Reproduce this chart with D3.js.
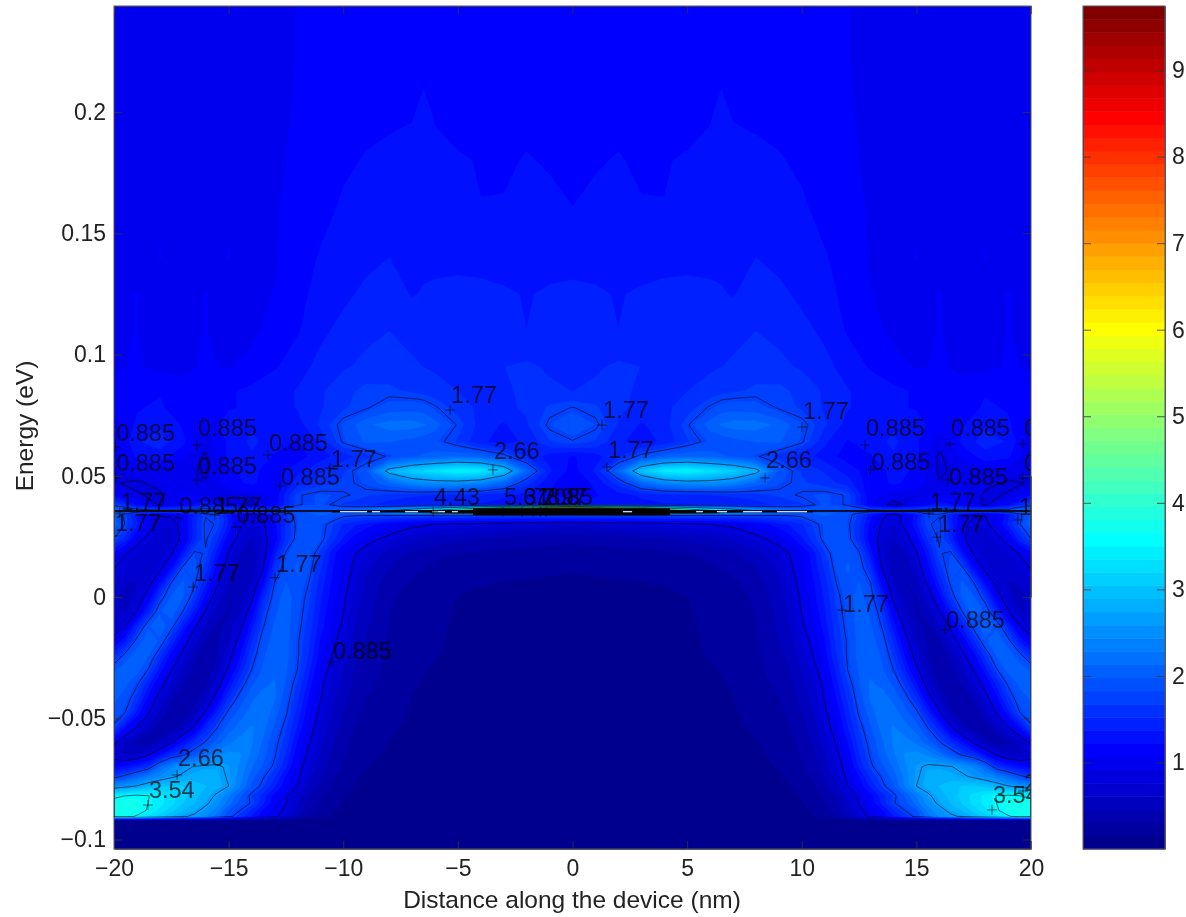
<!DOCTYPE html>
<html>
<head>
<meta charset="utf-8">
<script src="https://cdn.jsdelivr.net/npm/d3@7"></script>
<style>
  body { margin: 0; background: #fff; }
  svg { display: block; filter: blur(0.6px); }
  text { font-family: "Liberation Sans", sans-serif; fill: #222; }
  .axis path, .axis line { stroke: #333; stroke-width: 0.8; }
</style>
</head>
<body>
<div id="chart"></div>
<script>
// DATA
// ------------------------------------------------------------------

// Above the resonance line: left half of the device (nm), mirrored about x = 0
var distanceUpper = [-20, -19, -18, -17, -16, -15, -14, -13, -12, -11, -10, -9, -8, -7, -6.5, -6, -5, -4, -3, -2, -1, 0];

// Energy of each row (eV), top to bottom
var energyUpper = [0.244, 0.22, 0.2, 0.18, 0.16, 0.14, 0.125, 0.11, 0.095, 0.085, 0.078, 0.071, 0.064, 0.058, 0.052, 0.047, 0.042, 0.038, 0.0355];

// Density, one row per energy, one value per distance
var densityUpper = [
  [1.0, 1.0, 1.0, 1.0, 1.0, 1.0, 1.0, 1.03, 1.07, 1.11, 1.13, 1.13, 1.14, 1.14, 1.14, 1.13, 1.13, 1.13, 1.13, 1.13, 1.13, 1.13],
  [1.0, 1.0, 1.0, 1.0, 1.0, 1.0, 1.0, 1.03, 1.07, 1.11, 1.13, 1.14, 1.15, 1.16, 1.17, 1.15, 1.14, 1.14, 1.14, 1.14, 1.14, 1.13],
  [1.0, 1.0, 1.0, 1.0, 1.0, 1.0, 1.0, 1.03, 1.08, 1.12, 1.15, 1.17, 1.18, 1.2, 1.26, 1.2, 1.17, 1.15, 1.15, 1.16, 1.15, 1.14],
  [1.02, 1.0, 1.04, 1.02, 1.0, 1.04, 1.02, 1.04, 1.09, 1.14, 1.19, 1.23, 1.26, 1.28, 1.3, 1.26, 1.23, 1.21, 1.19, 1.23, 1.2, 1.17],
  [1.03, 1.0, 1.05, 1.02, 1.01, 1.05, 1.02, 1.05, 1.12, 1.17, 1.24, 1.28, 1.3, 1.32, 1.33, 1.32, 1.29, 1.22, 1.23, 1.28, 1.26, 1.22],
  [1.04, 1.0, 1.07, 1.02, 1.01, 1.07, 1.02, 1.05, 1.15, 1.23, 1.28, 1.32, 1.37, 1.34, 1.34, 1.34, 1.32, 1.29, 1.3, 1.32, 1.31, 1.29],
  [1.04, 1.07, 1.02, 1.03, 1.07, 1.03, 1.03, 1.07, 1.17, 1.27, 1.33, 1.41, 1.43, 1.36, 1.38, 1.39, 1.42, 1.43, 1.39, 1.36, 1.39, 1.42],
  [1.04, 1.07, 1.0, 1.04, 1.07, 1.02, 1.03, 1.12, 1.2, 1.33, 1.42, 1.48, 1.52, 1.46, 1.44, 1.44, 1.47, 1.48, 1.44, 1.37, 1.42, 1.47],
  [1.05, 1.08, 1.03, 1.04, 1.08, 1.05, 1.12, 1.2, 1.3, 1.42, 1.5, 1.56, 1.6, 1.55, 1.52, 1.5, 1.49, 1.48, 1.52, 1.55, 1.5, 1.47],
  [1.1, 1.1, 1.2, 1.1, 1.12, 1.2, 1.25, 1.3, 1.38, 1.5, 1.62, 1.72, 1.7, 1.65, 1.62, 1.58, 1.52, 1.45, 1.5, 1.55, 1.55, 1.52],
  [1.1, 1.2, 1.25, 1.1, 1.1, 1.2, 1.25, 1.3, 1.38, 1.5, 1.65, 1.75, 1.9, 1.92, 1.9, 1.8, 1.6, 1.48, 1.48, 1.55, 1.7, 1.78],
  [1.0, 1.25, 1.35, 1.2, 1.1, 1.3, 1.35, 1.25, 1.3, 1.55, 1.85, 2.1, 2.2, 2.2, 2.15, 2.05, 1.75, 1.45, 1.35, 1.5, 1.82, 1.98],
  [0.95, 1.35, 1.45, 1.25, 0.95, 1.25, 1.4, 1.3, 1.2, 1.4, 1.8, 2.0, 1.98, 1.92, 1.88, 1.85, 1.65, 1.4, 1.3, 1.4, 1.65, 1.75],
  [0.9, 1.25, 1.3, 1.1, 0.85, 1.25, 1.35, 1.2, 1.15, 1.3, 1.45, 1.6, 1.8, 1.95, 2.0, 2.05, 2.1, 2.05, 1.85, 1.5, 1.3, 1.2],
  [0.9, 1.0, 1.05, 0.95, 0.85, 1.2, 1.25, 1.15, 1.3, 1.5, 1.65, 1.95, 2.8, 3.1, 3.2, 3.3, 3.5, 3.4, 3.0, 2.1, 1.4, 1.15],
  [0.9, 0.85, 0.95, 1.0, 0.9, 1.15, 1.25, 1.1, 1.45, 1.6, 1.7, 1.85, 2.1, 2.4, 2.45, 2.5, 2.5, 2.4, 2.1, 1.6, 1.25, 1.1],
  [1.2, 0.9, 0.85, 1.1, 1.0, 0.9, 1.0, 1.1, 1.75, 1.85, 1.8, 1.7, 1.6, 1.55, 1.53, 1.5, 1.48, 1.45, 1.4, 1.3, 1.2, 1.2],
  [1.7, 1.2, 0.85, 1.1, 1.35, 1.0, 0.8, 1.1, 1.75, 1.85, 1.65, 1.55, 1.45, 1.4, 1.4, 1.38, 1.35, 1.35, 1.3, 1.3, 1.3, 1.35],
  [2.2, 2.0, 1.9, 1.9, 2.0, 1.9, 1.85, 1.9, 2.0, 2.0, 2.1, 2.3, 2.7, 3.2, 3.5, 3.8, 4.5, 5.5, 6.5, 7.5, 8.6, 9.7]
];

// Below the line the bands are narrow, so the grid is finer there
var distanceLower = [-20, -19.5, -19, -18.5, -18, -17.5, -17, -16.5, -16, -15.5, -15, -14.5, -14, -13.5, -13, -12.5, -12, -11.5, -11, -10.5, -10, -9.5, -9, -8, -7, -6, -5, -4, -3, -2, -1, 0];

var energyLower = [0.0355, 0.034, 0.03, 0.024, 0.018, 0.012, 0.006, 0, -0.006, -0.012, -0.018, -0.024, -0.03, -0.036, -0.042, -0.048, -0.054, -0.06, -0.065, -0.07, -0.074, -0.078, -0.082, -0.085, -0.088, -0.0905, -0.092, -0.104];

var densityLower = [
  [2.2, 2.1, 2.0, 1.95, 1.9, 1.9, 1.9, 1.95, 2.0, 1.95, 1.9, 1.85, 1.85, 1.88, 1.9, 1.95, 2.0, 2.0, 2.0, 2.05, 2.1, 2.2, 2.3, 2.7, 3.2, 3.8, 4.5, 5.5, 6.5, 7.5, 8.6, 9.7],
  [2.0, 1.7, 1.3, 1.0, 0.9, 0.95, 1.1, 1.4, 1.75, 1.75, 1.3, 0.95, 0.8, 0.95, 1.3, 1.65, 1.85, 1.95, 2.0, 1.95, 1.85, 1.82, 1.82, 1.85, 1.85, 1.85, 1.85, 1.85, 1.85, 1.85, 1.85, 1.85],
  [2.1, 1.75, 1.4, 1.05, 0.8, 0.75, 1.0, 1.45, 1.82, 1.75, 1.35, 0.95, 0.75, 0.85, 1.15, 1.55, 1.82, 1.98, 1.85, 1.7, 1.5, 1.4, 1.3, 1.1, 0.95, 0.88, 0.84, 0.8, 0.75, 0.72, 0.68, 0.65],
  [1.77, 1.45, 1.0, 0.8, 0.7, 0.72, 0.95, 1.45, 1.8, 1.55, 1.1, 0.75, 0.6, 0.75, 1.1, 1.55, 1.85, 1.95, 1.85, 1.6, 1.35, 1.15, 1.0, 0.8, 0.65, 0.55, 0.5, 0.45, 0.42, 0.4, 0.38, 0.35],
  [1.15, 0.9, 0.75, 0.68, 0.68, 0.85, 1.3, 1.82, 1.75, 1.3, 0.85, 0.6, 0.5, 0.75, 1.3, 1.8, 1.95, 1.9, 1.65, 1.3, 1.05, 0.9, 0.75, 0.55, 0.42, 0.35, 0.3, 0.28, 0.26, 0.24, 0.23, 0.22],
  [0.9, 0.75, 0.65, 0.65, 0.8, 1.2, 1.82, 1.9, 1.6, 1.15, 0.7, 0.48, 0.5, 0.85, 1.55, 1.9, 2.0, 1.85, 1.55, 1.25, 1.0, 0.85, 0.65, 0.45, 0.34, 0.27, 0.23, 0.21, 0.2, 0.19, 0.18, 0.17],
  [0.75, 0.62, 0.6, 0.75, 1.2, 1.77, 2.0, 1.82, 1.4, 0.95, 0.55, 0.45, 0.6, 1.15, 1.77, 1.98, 1.95, 1.77, 1.45, 1.2, 0.98, 0.78, 0.58, 0.38, 0.28, 0.22, 0.18, 0.16, 0.15, 0.14, 0.13, 0.12],
  [0.65, 0.55, 0.65, 1.05, 1.65, 2.0, 2.0, 1.65, 1.15, 0.7, 0.45, 0.5, 0.8, 1.45, 1.87, 2.05, 1.9, 1.7, 1.4, 1.15, 0.93, 0.7, 0.55, 0.33, 0.24, 0.2, 0.15, 0.13, 0.12, 0.11, 0.1, 0.1],
  [0.62, 0.6, 0.9, 1.45, 1.95, 2.1, 1.77, 1.35, 0.85, 0.55, 0.42, 0.6, 1.05, 1.65, 1.95, 2.05, 1.88, 1.65, 1.35, 1.08, 0.9, 0.65, 0.5, 0.31, 0.23, 0.19, 0.14, 0.12, 0.11, 0.11, 0.1, 0.1],
  [0.68, 0.9, 1.45, 1.95, 2.1, 1.85, 1.4, 0.95, 0.6, 0.42, 0.5, 0.8, 1.3, 1.75, 2.0, 2.05, 1.85, 1.6, 1.3, 1.02, 0.85, 0.6, 0.48, 0.3, 0.22, 0.18, 0.13, 0.11, 0.1, 0.1, 0.09, 0.09],
  [1.0, 1.35, 1.85, 2.1, 1.95, 1.5, 1.05, 0.7, 0.45, 0.42, 0.6, 1.0, 1.5, 1.88, 2.05, 2.05, 1.8, 1.55, 1.2, 0.95, 0.78, 0.55, 0.45, 0.28, 0.2, 0.17, 0.13, 0.11, 0.1, 0.09, 0.09, 0.09],
  [1.5, 1.85, 2.1, 2.0, 1.6, 1.15, 0.8, 0.5, 0.38, 0.45, 0.75, 1.2, 1.65, 1.95, 2.1, 2.05, 1.8, 1.5, 1.15, 0.89, 0.7, 0.5, 0.42, 0.27, 0.19, 0.16, 0.12, 0.1, 0.09, 0.09, 0.08, 0.08],
  [1.95, 2.1, 2.05, 1.75, 1.3, 0.9, 0.6, 0.42, 0.35, 0.52, 0.95, 1.4, 1.77, 2.0, 2.1, 2.0, 1.77, 1.4, 1.05, 0.8, 0.62, 0.45, 0.4, 0.25, 0.18, 0.14, 0.12, 0.1, 0.09, 0.08, 0.08, 0.08],
  [2.05, 2.0, 1.8, 1.4, 1.0, 0.68, 0.45, 0.36, 0.42, 0.75, 1.25, 1.65, 1.95, 2.1, 2.15, 1.95, 1.65, 1.3, 0.95, 0.72, 0.55, 0.42, 0.35, 0.22, 0.16, 0.13, 0.11, 0.09, 0.08, 0.08, 0.08, 0.07],
  [2.0, 1.9, 1.6, 1.15, 0.75, 0.48, 0.35, 0.38, 0.6, 1.05, 1.55, 1.88, 2.1, 2.2, 2.15, 1.88, 1.55, 1.2, 0.9, 0.65, 0.5, 0.38, 0.3, 0.2, 0.15, 0.12, 0.1, 0.09, 0.08, 0.08, 0.07, 0.07],
  [1.95, 1.75, 1.3, 0.9, 0.55, 0.36, 0.35, 0.5, 0.95, 1.45, 1.85, 2.05, 2.2, 2.25, 2.05, 1.8, 1.45, 1.1, 0.83, 0.6, 0.45, 0.34, 0.27, 0.19, 0.14, 0.11, 0.1, 0.09, 0.08, 0.07, 0.07, 0.07],
  [1.7, 1.2, 0.85, 0.55, 0.38, 0.34, 0.55, 0.95, 1.45, 1.77, 2.05, 2.2, 2.3, 2.2, 1.95, 1.68, 1.35, 1.0, 0.75, 0.52, 0.4, 0.3, 0.24, 0.17, 0.13, 0.11, 0.09, 0.08, 0.07, 0.07, 0.07, 0.07],
  [0.95, 0.6, 0.42, 0.36, 0.5, 0.85, 1.25, 1.55, 1.8, 2.05, 2.25, 2.35, 2.3, 2.1, 1.85, 1.6, 1.2, 0.9, 0.68, 0.48, 0.35, 0.27, 0.2, 0.15, 0.12, 0.1, 0.09, 0.08, 0.07, 0.07, 0.07, 0.07],
  [0.72, 0.55, 0.6, 0.85, 1.2, 1.55, 1.72, 1.95, 2.2, 2.4, 2.5, 2.45, 2.25, 2.05, 1.8, 1.5, 1.1, 0.82, 0.6, 0.42, 0.32, 0.24, 0.18, 0.13, 0.11, 0.09, 0.08, 0.07, 0.07, 0.07, 0.06, 0.06],
  [1.15, 1.25, 1.4, 1.6, 2.1, 2.4, 2.55, 2.68, 2.72, 2.72, 2.6, 2.4, 2.15, 1.95, 1.72, 1.4, 1.0, 0.75, 0.55, 0.38, 0.28, 0.2, 0.16, 0.12, 0.1, 0.09, 0.08, 0.07, 0.07, 0.07, 0.06, 0.06],
  [1.65, 1.85, 2.1, 2.3, 2.45, 2.6, 2.72, 2.78, 2.8, 2.78, 2.62, 2.35, 2.05, 1.8, 1.55, 1.2, 0.95, 0.65, 0.48, 0.33, 0.24, 0.17, 0.14, 0.1, 0.09, 0.08, 0.07, 0.07, 0.06, 0.06, 0.06, 0.06],
  [2.45, 2.55, 2.68, 2.85, 3.0, 3.05, 3.05, 3.0, 2.9, 2.8, 2.66, 2.3, 1.95, 1.7, 1.4, 1.1, 0.885, 0.55, 0.42, 0.28, 0.2, 0.15, 0.12, 0.09, 0.09, 0.08, 0.07, 0.07, 0.06, 0.06, 0.06, 0.06],
  [3.45, 3.55, 3.6, 3.55, 3.4, 3.25, 3.1, 2.95, 2.8, 2.6, 2.3, 2.0, 1.7, 1.45, 1.15, 0.92, 0.68, 0.45, 0.32, 0.22, 0.16, 0.12, 0.1, 0.08, 0.08, 0.07, 0.07, 0.06, 0.06, 0.06, 0.06, 0.06],
  [3.7, 3.8, 3.75, 3.54, 3.4, 3.25, 3.05, 2.9, 2.72, 2.5, 2.2, 1.9, 1.75, 1.4, 1.1, 0.9, 0.62, 0.4, 0.3, 0.2, 0.14, 0.11, 0.09, 0.07, 0.07, 0.07, 0.06, 0.06, 0.06, 0.06, 0.06, 0.06],
  [3.75, 3.8, 3.7, 3.5, 3.3, 3.1, 2.9, 2.75, 2.55, 2.35, 1.95, 1.77, 1.5, 1.2, 1.0, 0.82, 0.55, 0.35, 0.25, 0.17, 0.12, 0.1, 0.08, 0.07, 0.07, 0.06, 0.06, 0.06, 0.06, 0.06, 0.05, 0.05],
  [3.7, 3.65, 3.5, 3.3, 3.1, 2.9, 2.7, 2.6, 2.45, 2.2, 1.85, 1.6, 1.35, 1.1, 0.95, 0.7, 0.5, 0.3, 0.22, 0.15, 0.1, 0.09, 0.07, 0.06, 0.06, 0.06, 0.06, 0.06, 0.06, 0.06, 0.05, 0.05],
  [0.05, 0.05, 0.05, 0.05, 0.05, 0.05, 0.05, 0.05, 0.05, 0.05, 0.05, 0.05, 0.05, 0.05, 0.05, 0.05, 0.05, 0.05, 0.05, 0.05, 0.05, 0.05, 0.05, 0.05, 0.05, 0.05, 0.05, 0.05, 0.05, 0.05, 0.05, 0.05],
  [0.05, 0.05, 0.05, 0.05, 0.05, 0.05, 0.05, 0.05, 0.05, 0.05, 0.05, 0.05, 0.05, 0.05, 0.05, 0.05, 0.05, 0.05, 0.05, 0.05, 0.05, 0.05, 0.05, 0.05, 0.05, 0.05, 0.05, 0.05, 0.05, 0.05, 0.05, 0.05]
];

// Contour levels that get a drawn line
var lineLevels = [0.885, 1.77, 2.66, 3.54, 4.43, 5.31, 6.2, 7.08, 7.97, 8.85];

var xTicks = [-20, -15, -10, -5, 0, 5, 10, 15, 20];
var yTicks = [-0.1, -0.05, 0, 0.05, 0.1, 0.15, 0.2];
var barTicks = [1, 2, 3, 4, 5, 6, 7, 8, 9];

// Contour labels: text, x of the plus (nm), E of the plus, E of the text centre
var contourLabels = [
  ["1.77", -5.34, 0.0771, 0.0833], ["1.77", 1.29, 0.0709, 0.0771], ["1.77", 10.01, 0.0701, 0.0767],
  ["0.885", -19.95, 0.0619, 0.068], ["0.885", -16.38, 0.0627, 0.0697], ["0.885", -13.28, 0.0586, 0.0635],
  ["0.885", -19.95, 0.0491, 0.0556], ["0.885", -16.38, 0.0482, 0.0544], ["0.885", -12.76, 0.0458, 0.0495],
  ["1.77", -10.58, 0.0532, 0.0573], ["2.66", -3.47, 0.0524, 0.0602], ["1.77", 1.5, 0.0536, 0.061],
  ["2.66", 8.4, 0.0491, 0.0565], ["0.885", 12.76, 0.0627, 0.0697], ["0.885", 16.47, 0.0631, 0.0697],
  ["0.885", 13.0, 0.0524, 0.0557], ["0.885", 16.38, 0.0482, 0.0495], ["0.885", 19.65, 0.0631, 0.0697],
  ["0.885", 19.65, 0.0491, 0.0556], ["1.77", 15.55, 0.0346, 0.0392], ["1.77", 15.9, 0.0247, 0.0301],
  ["1.77", 19.43, 0.0318, 0.0375], ["1.77", -19.75, 0.0346, 0.0392], ["1.77", -20, 0.0252, 0.0309],
  ["0.885", -17.2, 0.0326, 0.0379], ["1.77", -15.6, 0.0338, 0.0379], ["0.885", -14.7, 0.0289, 0.0338],
  ["1.77", -16.55, 0.0041, 0.0099], ["1.77", -12.98, 0.008, 0.014], ["1.77", 11.76, -0.0054, -0.0025],
  ["0.885", 16.25, -0.0136, -0.0095], ["0.885", -10.49, -0.0268, -0.0219], ["2.66", -17.25, -0.0734, -0.0664],
  ["3.54", -18.52, -0.0858, -0.0792], ["3.54", 18.3, -0.0878, -0.0816], ["2.66", 19.65, -0.08, -0.0767],
  ["4.43", -6.08, 0.0351, 0.0416], ["5.31", -3.03, 0.0351, 0.0416], ["6.2", -2.2, 0.0351, 0.0416],
  ["7.08", -1.72, 0.0351, 0.0416], ["7.97", -1.4, 0.0351, 0.0416], ["8.85", -1.15, 0.0351, 0.0416]
];

// The contours bunch up along the resonance line: from, to (nm), thickness
var lineBundles = [[-20, 20, 0.8], [-10.5, 10.5, 1.6], [-6.2, 6.4, 3], [-4.34, 4.25, 7]];
// White gaps in that bundle (nm)
var lineGaps = [[-10.14, -8.96], [-8.75, -8.4], [-7.3, -6.74], [-6.13, -5.56], [-5.26, -5], [2.2, 2.6], [5.39, 5.69], [6.3, 6.74], [7.44, 8.27], [8.92, 10.23]];
var bundleEnergy = 0.0352;
var fieldFloor = -0.0908;

var densityMax = 9.74;
var levelCount = 64;

// CANVAS
// ------------------------------------------------------------------

var width = 1186,
    height = 917;

var plot = { left: 114, right: 1031, top: 6, bottom: 849 },
    bar = { left: 1083, right: 1165 };

var svg = d3.select("#chart")
    .append("svg")
    .attr("width", width)
    .attr("height", height);

// SCALES
// ------------------------------------------------------------------

var xScale = d3.scaleLinear().domain([-20, 20]).range([114, 1031]);
var yScale = d3.scaleLinear().domain([0, 0.05]).range([597, 475.75]);
var barScale = d3.scaleLinear().domain([0, densityMax]).range([plot.bottom, plot.top]);

// MATLAB jet, 64 steps
function jet(i) {
  var t = (i + 1) / levelCount;
  function ramp(c) { return Math.max(0, Math.min(1, 1.5 - Math.abs(4 * t - c))); }
  return d3.rgb(ramp(3) * 255, ramp(2) * 255, ramp(1) * 255).formatHex();
}

var step = densityMax / levelCount;
var fillLevels = d3.range(levelCount).map(function(i) { return i * step; });

svg.append("clipPath").attr("id", "plot-clip")
  .append("rect")
    .attr("x", plot.left)
    .attr("y", plot.top)
    .attr("width", plot.right - plot.left)
    .attr("height", plot.bottom - plot.top);

svg.append("clipPath").attr("id", "line-clip")
  .append("rect")
    .attr("x", plot.left)
    .attr("y", plot.top)
    .attr("width", plot.right - plot.left)
    .attr("height", yScale(fieldFloor) - plot.top);

var field = svg.append("g").attr("clip-path", "url(#plot-clip)");
var fillLayer = field.append("g");
var lineLayer = field.append("g").attr("clip-path", "url(#line-clip)");

// FIELD AND CONTOUR LINES
// ------------------------------------------------------------------

function drawBlock(distanceLeft, energies, densityLeft) {
  // Mirror the left half to get the full grid
  var distances = distanceLeft.concat(distanceLeft.slice(0, -1).reverse().map(function(d) { return -d; }));
  var values = d3.merge(densityLeft.map(function(row) {
    return row.concat(row.slice(0, -1).reverse());
  }));
  var nCols = distances.length,
      nRows = energies.length;

  // Grid index -> data value (the grid is not evenly spaced)
  var colToX = d3.scaleLinear().domain(d3.range(nCols)).range(distances).clamp(true);
  var rowToE = d3.scaleLinear().domain(d3.range(nRows)).range(energies).clamp(true);

  var gridPath = d3.geoPath(d3.geoTransform({
    point: function(gx, gy) {
      this.stream.point(xScale(colToX(gx - 0.5)), yScale(rowToE(gy - 0.5)));
    }
  }));

  var contours = d3.contours().size([nCols, nRows]);

  fillLayer.append("g")
    .selectAll("path")
    .data(contours.thresholds(fillLevels)(values))
    .join("path")
      .attr("d", gridPath)
      .attr("fill", function(d, i) { return jet(i); })
      .attr("stroke", function(d, i) { return jet(i); })
      .attr("stroke-width", 0.4);

  lineLayer.append("g")
    .selectAll("path")
    .data(contours.thresholds(lineLevels)(values))
    .join("path")
      .attr("d", gridPath)
      .attr("fill", "none")
      .attr("stroke", "#000")
      .attr("stroke-opacity", 0.65)
      .attr("stroke-width", 0.9);
}

drawBlock(distanceUpper, energyUpper, densityUpper);
drawBlock(distanceLower, energyLower, densityLower);

field.append("g")
  .selectAll("line")
  .data(lineBundles)
  .join("line")
    .attr("x1", function(d) { return xScale(d[0]); })
    .attr("x2", function(d) { return xScale(d[1]); })
    .attr("y1", yScale(bundleEnergy))
    .attr("y2", yScale(bundleEnergy))
    .attr("stroke", "#000")
    .attr("stroke-opacity", function(d) { return d[2] < 1 ? 0.6 : 1; })
    .attr("stroke-width", function(d) { return d[2]; });

field.append("g")
  .selectAll("line")
  .data(lineGaps)
  .join("line")
    .attr("x1", function(d) { return xScale(d[0]); })
    .attr("x2", function(d) { return xScale(d[1]); })
    .attr("y1", yScale(bundleEnergy))
    .attr("y2", yScale(bundleEnergy))
    .attr("stroke", "#c9d4ff")
    .attr("stroke-width", 1.4);

// CONTOUR LABELS
// ------------------------------------------------------------------

var labelGroup = field.append("g");

labelGroup.selectAll("path")
  .data(contourLabels)
  .join("path")
    .attr("d", function(d) {
      var px = xScale(d[1]), py = yScale(d[2]);
      return "M" + (px - 5) + "," + py + "H" + (px + 5) + "M" + px + "," + (py - 5) + "V" + (py + 5);
    })
    .attr("stroke", "#000")
    .attr("stroke-opacity", 0.65)
    .attr("stroke-width", 0.9);

labelGroup.selectAll("text")
  .data(contourLabels)
  .join("text")
    .attr("x", function(d) { return xScale(d[1]) + 1; })
    .attr("y", function(d) { return yScale(d[3]); })
    .attr("dy", "0.36em")
    .style("font-size", "23.5px")
    .style("fill", "#000")
    .style("fill-opacity", 0.7)
    .text(function(d) { return d[0]; });

// AXES
// ------------------------------------------------------------------

function minus(d) { return String(d).replace("-", "\u2212"); }

svg.append("g")
    .attr("class", "axis")
    .attr("transform", "translate(0," + plot.bottom + ")")
    .call(d3.axisBottom(xScale).tickValues(xTicks).tickSizeInner(-8).tickSizeOuter(0).tickPadding(11).tickFormat(minus));
svg.append("g")
    .attr("class", "axis")
    .attr("transform", "translate(0," + plot.top + ")")
    .call(d3.axisTop(xScale).tickValues(xTicks).tickSizeInner(-8).tickSizeOuter(0).tickFormat(""));
svg.append("g")
    .attr("class", "axis")
    .attr("transform", "translate(" + plot.left + ",0)")
    .call(d3.axisLeft(yScale).tickValues(yTicks).tickSizeInner(-8).tickSizeOuter(0).tickPadding(8).tickFormat(minus));
svg.append("g")
    .attr("class", "axis")
    .attr("transform", "translate(" + plot.right + ",0)")
    .call(d3.axisRight(yScale).tickValues(yTicks).tickSizeInner(-8).tickSizeOuter(0).tickFormat(""));

svg.append("rect")
    .attr("x", plot.left)
    .attr("y", plot.top)
    .attr("width", plot.right - plot.left)
    .attr("height", plot.bottom - plot.top)
    .attr("fill", "none")
    .attr("stroke", "#556");

svg.append("text")
    .attr("x", 572)
    .attr("y", 908)
    .style("text-anchor", "middle")
    .style("font-size", "24.5px")
    .text("Distance along the device (nm)");

svg.append("text")
    .attr("transform", "rotate(-90)")
    .attr("x", -426)
    .attr("y", 33)
    .style("text-anchor", "middle")
    .style("font-size", "24.5px")
    .text("Energy (eV)");

// COLOUR BAR
// ------------------------------------------------------------------

svg.append("g")
  .selectAll("rect")
  .data(fillLevels)
  .join("rect")
    .attr("x", bar.left)
    .attr("width", bar.right - bar.left)
    .attr("y", function(d) { return barScale(d + step); })
    .attr("height", function(d) { return barScale(d) - barScale(d + step) + 0.5; })
    .attr("fill", function(d, i) { return jet(i); });

svg.append("g")
    .attr("class", "axis")
    .attr("transform", "translate(" + bar.right + ",0)")
    .call(d3.axisRight(barScale).tickValues(barTicks).tickSizeInner(-8).tickSizeOuter(0).tickPadding(7));
svg.append("g")
    .attr("class", "axis")
    .attr("transform", "translate(" + bar.left + ",0)")
    .call(d3.axisLeft(barScale).tickValues(barTicks).tickSizeInner(-8).tickSizeOuter(0).tickFormat(""));

svg.selectAll(".axis text").style("font-size", "23px");

svg.append("rect")
    .attr("x", bar.left)
    .attr("y", plot.top)
    .attr("width", bar.right - bar.left)
    .attr("height", plot.bottom - plot.top)
    .attr("fill", "none")
    .attr("stroke", "#556");
</script>
</body>
</html>
